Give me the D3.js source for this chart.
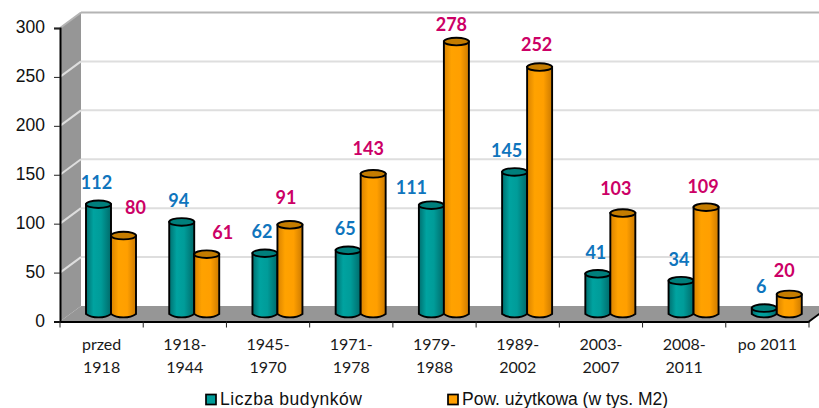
<!doctype html>
<html lang="pl">
<head>
    <meta charset="utf-8">
    <title>Liczba budynków</title>
    <script src="https://d3js.org/d3.v7.min.js"></script>
    <style>
        html, body { margin: 0; padding: 0; background: #fff; overflow: hidden; }
        svg { display: block; }
    </style>
</head>
<body>
    <div id="my_dataviz"></div>
    <script>
        // data
        var categories = ["przed 1918", "1918- 1944", "1945- 1970", "1971- 1978", "1979- 1988", "1989- 2002", "2003- 2007", "2008- 2011", "po 2011"];
        var buildings = [112, 94, 62, 65, 111, 145, 41, 34, 6];
        var usableArea = [80, 61, 91, 143, 278, 252, 103, 109, 20];
        var yTicks = [0, 50, 100, 150, 200, 250, 300];
        var seriesNames = ["Liczba budynków", "Pow. użytkowa (w tys. M2)"];

        var width = 819, height = 408;

        // label offsets from the top of each cylinder, by hand [dx, dy]
        var nudgeBuildings = [[-2, -15], [-3, -15], [-3, -15], [-3, -15], [-20, -11], [-8, -15], [-2, -15], [-2, -15], [-3, -15]];
        var nudgeArea = [[12, -22], [16, -15], [-4, -21], [-5, -19], [-5, -11], [-3, -16], [-7, -18], [-3, -14], [-5, -17]];

        var svg = d3.select("#my_dataviz").append("svg")
            .attr("width", width)
            .attr("height", height);

        // front edge, back wall and cylinder height scales (fake 3D)
        var x = d3.scaleBand().domain(categories).range([60, 809]);
        var yFront = d3.scaleLinear().domain([0, 300]).range([321.5, 28]);
        var yBack = d3.scaleLinear().domain([0, 300]).range([306, 12.5]);
        var yBar = d3.scaleLinear().domain([0, 300]).range([314, 20]);
        var depth = 21;

        function makeGradient(id, stops) {
            var g = svg.append("defs").append("linearGradient").attr("id", id);
            stops.forEach(function (s) {
                g.append("stop").attr("offset", s[0]).attr("stop-color", s[1]);
            });
        }
        makeGradient("tealGrad", [["0%", "#006f6f"], ["30%", "#00a3a0"], ["60%", "#009c99"], ["100%", "#006a6a"]]);
        makeGradient("orangeGrad", [["0%", "#d98200"], ["30%", "#ffa200"], ["65%", "#ff9f00"], ["100%", "#cc7a00"]]);

        // left wall and floor
        svg.append("path")
            .attr("d", d3.line()([[x.range()[0], yFront(0)], [x.range()[0], yFront(300)], [x.range()[0] + depth, yBack(300)], [x.range()[0] + depth, yBack(0)]]))
            .attr("fill", "#969696");
        svg.append("path")
            .attr("d", d3.line()([[x.range()[0], yFront(0)], [x.range()[1], yFront(0)], [x.range()[1] + depth, yBack(0)], [x.range()[0] + depth, yBack(0)]]))
            .attr("fill", "#969696");

        // gridlines
        yTicks.filter(function (t) { return t > 0; }).forEach(function (t) {
            var col = t === 300 ? "#b4b4b4" : "#dedede";
            svg.append("line")
                .attr("x1", x.range()[0] + depth).attr("x2", width)
                .attr("y1", yBack(t)).attr("y2", yBack(t))
                .attr("stroke", col).attr("stroke-width", 2);
            svg.append("line")
                .attr("x1", x.range()[0]).attr("x2", x.range()[0] + depth)
                .attr("y1", yFront(t)).attr("y2", yBack(t))
                .attr("stroke", col).attr("stroke-width", 2);
        });

        // axes
        var yAxis = svg.append("g")
            .attr("transform", "translate(" + x.range()[0] + ",0)")
            .call(d3.axisLeft(yFront).tickValues(yTicks).tickSize(6).tickPadding(9));
        yAxis.selectAll("text")
            .attr("font-family", "'Liberation Sans', Arial, sans-serif")
            .attr("font-size", 17.5)
            .attr("dy", "0.27em")
            .attr("fill", "#111");
        yAxis.selectAll("line").attr("stroke", "#222").attr("stroke-width", 1);
        yAxis.select(".domain").attr("stroke", "#000").attr("stroke-width", 2);

        var xAxis = svg.append("g")
            .attr("transform", "translate(0," + yFront(0) + ")")
            .call(d3.axisBottom(x).tickSize(0).tickPadding(0).tickFormat(""));
        xAxis.select(".domain").attr("stroke", "#000").attr("stroke-width", 2);
        xAxis.selectAll(".tick").remove();

        // ticks sit between the categories
        svg.append("g").selectAll("line")
            .data(categories.map(function (c) { return x(c); }).concat([x.range()[1]]))
            .enter().append("line")
            .attr("x1", function (d) { return d; }).attr("x2", function (d) { return d; })
            .attr("y1", yFront(0)).attr("y2", yFront(0) + 6)
            .attr("stroke", "#222").attr("stroke-width", 1);

        // floor corner at the front right
        svg.append("line")
            .attr("x1", x.range()[1]).attr("y1", yFront(0))
            .attr("x2", x.range()[1] + depth).attr("y2", yBack(0))
            .attr("stroke", "#000").attr("stroke-width", 2);

        // category labels, broken after the hyphen
        var catLabels = svg.append("g").selectAll("text")
            .data(categories)
            .enter().append("text")
            .attr("text-anchor", "middle")
            .attr("font-family", "Lato, 'Noto Sans', sans-serif")
            .attr("font-size", 16)
            .attr("fill", "#1a1a1a");
        catLabels.each(function (d) {
            var cx = x(d) + x.bandwidth() / 2;
            var t = d3.select(this);
            var parts = d === "po 2011" ? [d] : d.split(" ");
            parts.forEach(function (p, i) {
                t.append("tspan").attr("x", cx).attr("y", 350 + i * 23).text(p);
            });
        });

        // cylinders
        var barWidth = 25, rx = barWidth / 2, ry = 3.8;
        var inner = d3.scaleBand().domain([0, 1]).range([26, 76]);

        function cylinder(cx, value, grad, topCol) {
            var topY = yBar(value), baseY = yBar(0);
            var body = d3.path();
            body.moveTo(cx - rx, topY);
            body.lineTo(cx - rx, baseY);
            body.bezierCurveTo(cx - rx / 2, baseY + ry * 1.2, cx + rx / 2, baseY + ry * 1.2, cx + rx, baseY);
            body.lineTo(cx + rx, topY);
            body.closePath();
            svg.append("path")
                .attr("d", body.toString())
                .attr("fill", "url(#" + grad + ")")
                .attr("stroke", "#000").attr("stroke-width", 1.9);
            svg.append("ellipse")
                .attr("cx", cx).attr("cy", topY)
                .attr("rx", rx).attr("ry", ry)
                .attr("fill", topCol)
                .attr("stroke", "#000").attr("stroke-width", 1.9);
        }

        categories.forEach(function (c, i) {
            cylinder(x(c) + inner(0) + inner.bandwidth() / 2, buildings[i], "tealGrad", "#007f7c");
            cylinder(x(c) + inner(1) + inner.bandwidth() / 2, usableArea[i], "orangeGrad", "#c47c00");
        });

        // value labels
        function valueLabels(values, series, nudge, color) {
            svg.append("g").selectAll("text")
                .data(values)
                .enter().append("text")
                .attr("x", function (d, i) { return x(categories[i]) + inner(series) + inner.bandwidth() / 2 + nudge[i][0]; })
                .attr("y", function (d, i) { return yBar(d) + nudge[i][1]; })
                .attr("text-anchor", "middle")
                .attr("font-family", "Lato, 'Noto Sans', sans-serif")
                .attr("font-weight", 700)
                .attr("font-size", 18)
                .attr("fill", color)
                .text(function (d) { return d; });
        }
        valueLabels(buildings, 0, nudgeBuildings, "#0f75bd");
        valueLabels(usableArea, 1, nudgeArea, "#cc0066");

        // legend
        var legendX = d3.scaleOrdinal().domain(seriesNames).range([206, 448]);
        var legendFill = d3.scaleOrdinal().domain(seriesNames).range(["#009c99", "#ff9f00"]);
        var legendSpacing = d3.scaleOrdinal().domain(seriesNames).range([0.55, 0]);
        seriesNames.forEach(function (n) {
            svg.append("rect")
                .attr("x", legendX(n)).attr("y", 394.5)
                .attr("width", 10).attr("height", 10)
                .attr("fill", legendFill(n))
                .attr("stroke", "#000").attr("stroke-width", 1.7);
            svg.append("text")
                .attr("x", legendX(n) + 14).attr("y", 405)
                .attr("font-family", "'Liberation Sans', Arial, sans-serif")
                .attr("font-size", 17.5)
                .attr("letter-spacing", legendSpacing(n))
                .attr("fill", "#111")
                .text(n);
        });
    </script>
</body>
</html>
